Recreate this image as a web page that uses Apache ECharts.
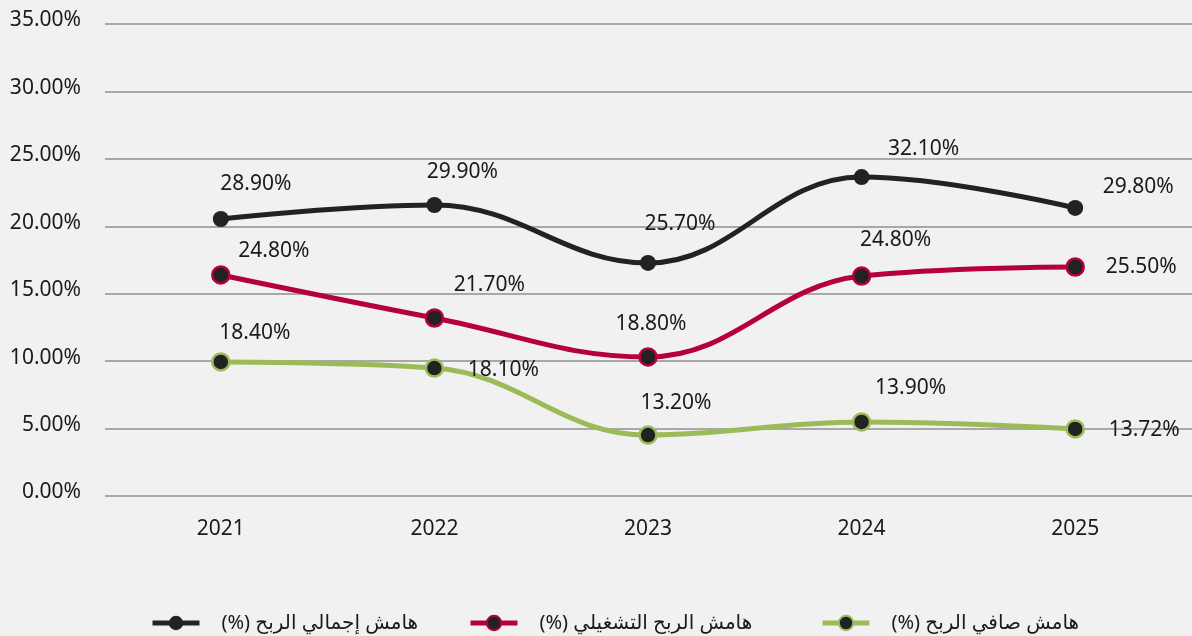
<!DOCTYPE html>
<html>
<head>
<meta charset="utf-8">
<script src="https://cdn.jsdelivr.net/npm/echarts@6/dist/echarts.min.js"></script>
<style>
  html, body { margin: 0; padding: 0; background: #f1f1f1; }
  #main { width: 1192px; height: 636px; }
</style>
</head>
<body>
<div id="main" dir="rtl"></div>
<script>
// السنوات
var years = ["2021", "2022", "2023", "2024", "2025"];
// قيم الرسم كما تظهر على المحور
var grossValues = [20.54, 21.58, 17.28, 23.65, 21.36];
var operatingValues = [16.39, 13.20, 10.31, 16.31, 16.98];
var netValues = [9.94, 9.49, 4.52, 5.49, 4.97];
// النصوص المكتوبة فوق النقاط
var grossLabels = ["28.90%", "29.90%", "25.70%", "32.10%", "29.80%"];
var operatingLabels = ["24.80%", "21.70%", "18.80%", "24.80%", "25.50%"];
var netLabels = ["18.40%", "18.10%", "13.20%", "13.90%", "13.72%"];
// تسميات المحور الرأسي
var yTicks = [0, 5, 10, 15, 20, 25, 30, 35];
// أسماء السلاسل
var seriesNames = ["هامش إجمالي الربح (%)", "هامش الربح التشغيلي (%)", "هامش صافي الربح (%)"];

// إزاحة كل نص عن نقطته
var grossOffsets = [[35, -35], [28, -33], [32, -39], [62, -28], [63, -21]];
var operatingOffsets = [[53, -24], [55, -33], [3, -33], [34, -36], [66, 0]];
var netOffsets = [[34, -29], [69, 2], [28, -32], [49, -34], [69, 1]];
// موضع كل عنصر في وسيلة الإيضاح
var legendLefts = [150, 468, 820];

var font = "'Noto Sans', 'DejaVu Sans', sans-serif";

function buildData(values, labels, offsets) {
  return values.map(function (v, i) {
    return {
      value: v,
      label: { formatter: labels[i], offset: offsets[i] }
    };
  });
}

function makeSeries(name, color, values, labels, offsets, dotBorder) {
  return {
    name: name,
    type: "line",
    xAxisIndex: 1,
    yAxisIndex: 1,
    smooth: 0.4,
    symbol: "circle",
    symbolSize: dotBorder ? 17 : 16,
    lineStyle: { color: color, width: 5 },
    itemStyle: {
      color: "#222222",
      borderColor: dotBorder ? color : "#222222",
      borderWidth: dotBorder ? 2.5 : 0
    },
    label: {
      show: true,
      position: "inside",
      color: "#1a1a1a",
      fontSize: 21,
      fontFamily: font
    },
    emphasis: { disabled: true },
    data: buildData(values, labels, offsets)
  };
}

var myChart = echarts.init(document.getElementById("main"));

var option = {
  backgroundColor: "#f1f1f1",
  animation: false,
  grid: [
    { left: 105, right: 0, top: 24, bottom: 140 },
    { left: 114, right: 10, top: 24, bottom: 140 }
  ],
  // كل عنصر إيضاح في مكانه
  legend: seriesNames.map(function (n, i) {
    return {
      data: [n],
      left: legendLefts[i],
      top: 613,
      padding: 0,
      itemWidth: 47,
      itemHeight: 18,
      lineStyle: { width: 5 },
      textStyle: {
        color: "#1a1a1a",
        fontSize: 20,
        fontFamily: font,
        padding: [0, 0, 0, 17]
      }
    };
  }),
  xAxis: [
    { gridIndex: 0, type: "category", data: years, show: false },
    {
      gridIndex: 1,
      type: "category",
      data: years,
      axisLine: { show: false },
      axisTick: { show: false },
      axisLabel: { color: "#1a1a1a", fontSize: 21, fontFamily: font, margin: 23 }
    }
  ],
  yAxis: [
    {
      gridIndex: 0,
      type: "value",
      min: yTicks[0],
      max: yTicks[yTicks.length - 1],
      interval: 5,
      axisLine: { show: false },
      axisTick: { show: false },
      axisLabel: {
        color: "#1a1a1a",
        fontSize: 21,
        fontFamily: font,
        margin: 24,
        verticalAlign: "bottom",
        lineHeight: 7,
        formatter: function (v) { return v.toFixed(2) + "%"; }
      },
      splitLine: { lineStyle: { color: "#8f8f8f", width: 1.5 } }
    },
    {
      gridIndex: 1,
      type: "value",
      min: yTicks[0],
      max: yTicks[yTicks.length - 1],
      interval: 5,
      show: false
    }
  ],
  series: [
    makeSeries(seriesNames[0], "#222222", grossValues, grossLabels, grossOffsets, false),
    makeSeries(seriesNames[1], "#b5003b", operatingValues, operatingLabels, operatingOffsets, true),
    makeSeries(seriesNames[2], "#9bbb59", netValues, netLabels, netOffsets, true)
  ]
};

myChart.setOption(option);
</script>
</body>
</html>
